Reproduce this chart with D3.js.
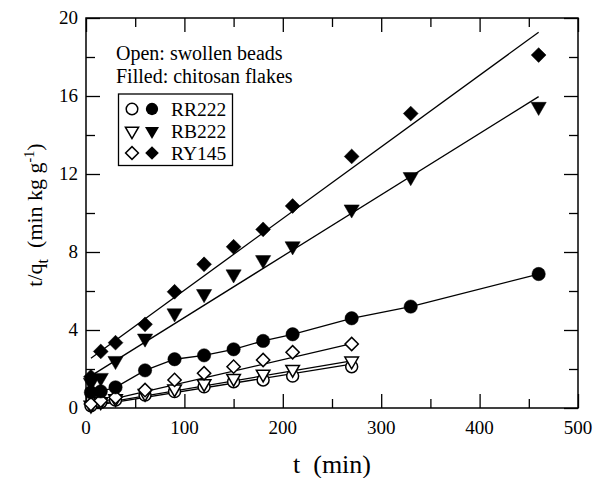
<!DOCTYPE html>
<html>
<head>
<meta charset="utf-8">
<script src="https://cdn.jsdelivr.net/npm/d3@7"></script>
<style>
	body { margin: 0; background: #fff; }
	svg text { font-family: "Liberation Serif", "DejaVu Serif", serif; fill: #000; }
</style>
</head>
<body>
<div id="chart"></div>
<script>
//-------------------------------------
// data
//-------------------------------------
var tFilled = [5, 15, 30, 60, 90, 120, 150, 180, 210, 270, 330, 460];
var rrFilled = [0.8, 0.85, 1.06, 1.93, 2.50, 2.70, 3.01, 3.44, 3.78, 4.60, 5.20, 6.87];
var rbFilled = [1.3, 1.55, 2.42, 3.57, 4.86, 5.85, 6.86, 7.59, 8.30, 10.19, 11.85, 15.45];
var ryFilled = [1.6, 2.9, 3.35, 4.29, 5.96, 7.37, 8.27, 9.16, 10.36, 12.9, 15.1, 18.1];

var tOpen = [5, 15, 30, 60, 90, 120, 150, 180, 210, 270];
var rrOpen = [0.12, 0.3, 0.41, 0.67, 0.84, 1.09, 1.35, 1.44, 1.64, 2.12];
var rbOpen = [0.15, 0.32, 0.48, 0.75, 0.98, 1.25, 1.52, 1.74, 1.98, 2.41];
var ryOpen = [0.2, 0.38, 0.55, 0.92, 1.44, 1.78, 2.12, 2.46, 2.86, 3.28];

// fitted lines (end points)
var fitFilledT = [5, 460];
var ryFilledFit = [2.55, 19.27];
var rbFilledFit = [1.65, 15.97];
var fitOpenT = [5, 270];
var rrOpenFit = [0.1, 2.25];
var rbOpenFit = [0.15, 2.42];
var ryOpenFit = [0.2, 3.3];

var xMajor = [0, 100, 200, 300, 400, 500];
var xMinor = [50, 150, 250, 350, 450];
var yMajor = [0, 4, 8, 12, 16, 20];
var yMinor = [2, 6, 10, 14, 18];

var legendNames = ["RR222", "RB222", "RY145"];
var noteLines = ["Open: swollen beads", "Filled: chitosan flakes"];

//-------------------------------------
// field
//-------------------------------------
var width = 594;
var height = 478;
var plotL = 86, plotR = 578, plotT = 18, plotB = 408;

var svg = d3.select("#chart")
	.append("svg")
	.attr("width", width)
	.attr("height", height);

var x = d3.scaleLinear().domain([0, 500]).range([plotL, plotR]);
var y = d3.scaleLinear().domain([0, 20]).range([plotB, plotT]);

//-------------------------------------
// axes (ticks inward on all four sides)
//-------------------------------------
function drawAxis(axis, scale, values, size, transform) {
	svg.append("g")
		.attr("transform", transform)
		.call(axis(scale).tickValues(values).tickSize(size).tickFormat(""))
		.call(function(g) { g.select(".domain").remove(); })
		.selectAll("line")
		.attr("stroke", "#000")
		.attr("stroke-width", 1.3);
}

drawAxis(d3.axisTop, x, xMajor, 14, "translate(0," + plotB + ")");
drawAxis(d3.axisTop, x, xMinor, 9, "translate(0," + plotB + ")");
drawAxis(d3.axisBottom, x, xMajor, 14, "translate(0," + plotT + ")");
drawAxis(d3.axisBottom, x, xMinor, 9, "translate(0," + plotT + ")");
drawAxis(d3.axisRight, y, yMajor, 14, "translate(" + plotL + ",0)");
drawAxis(d3.axisRight, y, yMinor, 9, "translate(" + plotL + ",0)");
drawAxis(d3.axisLeft, y, yMajor, 14, "translate(" + plotR + ",0)");
drawAxis(d3.axisLeft, y, yMinor, 9, "translate(" + plotR + ",0)");

svg.append("rect")
	.attr("x", plotL)
	.attr("y", plotT)
	.attr("width", plotR - plotL)
	.attr("height", plotB - plotT)
	.attr("fill", "none")
	.attr("stroke", "#000")
	.attr("stroke-width", 1.5);

// tick labels
svg.append("g").selectAll("text")
	.data(xMajor)
	.enter()
	.append("text")
	.attr("x", function(d) { return x(d); })
	.attr("y", plotB + 26)
	.attr("text-anchor", "middle")
	.style("font-size", "19px")
	.text(function(d) { return d; });

svg.append("g").selectAll("text")
	.data(yMajor)
	.enter()
	.append("text")
	.attr("x", plotL - 8)
	.attr("y", function(d) { return y(d) + 6; })
	.attr("text-anchor", "end")
	.style("font-size", "19px")
	.text(function(d) { return d; });

// axis titles
svg.append("text")
	.attr("x", (plotL + plotR) / 2)
	.attr("y", 473)
	.attr("text-anchor", "middle")
	.style("font-size", "26px")
	.attr("xml:space", "preserve")
	.text("t  (min)");

var ylab = svg.append("text")
	.attr("transform", "translate(42," + 215 + ") rotate(-90)")
	.attr("text-anchor", "middle")
	.attr("xml:space", "preserve")
	.style("font-size", "22px");
ylab.append("tspan").text("t/q");
ylab.append("tspan").attr("dy", 6).style("font-size", "16px").text("t");
ylab.append("tspan").attr("dy", -6).text("  (min kg g");
ylab.append("tspan").attr("dy", -8).style("font-size", "14px").text("-1");
ylab.append("tspan").attr("dy", 8).text(")");

//-------------------------------------
// lines
//-------------------------------------
var line = d3.line()
	.x(function(d) { return x(d[0]); })
	.y(function(d) { return y(d[1]); });

function drawLine(ts, vs) {
	svg.append("path")
		.datum(d3.zip(ts, vs))
		.attr("d", line)
		.attr("fill", "none")
		.attr("stroke", "#000")
		.attr("stroke-width", 1.3);
}

drawLine(fitFilledT, ryFilledFit);
drawLine(fitFilledT, rbFilledFit);
drawLine(tFilled, rrFilled);
drawLine(fitOpenT, ryOpenFit);
drawLine(fitOpenT, rbOpenFit);
drawLine(fitOpenT, rrOpenFit);

//-------------------------------------
// symbols
//-------------------------------------
var shapes = [
	{ type: d3.symbolCircle, size: 140, rot: 0 },
	{ type: d3.symbolTriangle, size: 100, rot: 180 },
	{ type: d3.symbolSquare, size: 110, rot: 45 }
];

function drawPoints(ts, vs, shape, filled, scale) {
	svg.append("g").selectAll("path")
		.data(d3.zip(ts, vs))
		.enter()
		.append("path")
		.attr("d", d3.symbol().type(shape.type).size(shape.size * (scale || 1)))
		.attr("transform", function(d) {
			return "translate(" + x(d[0]) + "," + y(d[1]) + ") rotate(" + shape.rot + ")";
		})
		.attr("fill", filled ? "#000" : "#fff")
		.attr("stroke", "#000")
		.attr("stroke-width", filled ? 0.5 : 1.5);
}

drawPoints(tOpen, rrOpen, shapes[0], false, 0.8);
drawPoints(tOpen, rbOpen, shapes[1], false, 0.8);
drawPoints(tOpen, ryOpen, shapes[2], false, 0.8);
drawPoints(tFilled, rrFilled, shapes[0], true);
drawPoints(tFilled, rbFilled, shapes[1], true);
drawPoints(tFilled, ryFilled, shapes[2], true);

//-------------------------------------
// notes and legend
//-------------------------------------
svg.append("g").selectAll("text")
	.data(noteLines)
	.enter()
	.append("text")
	.attr("x", 116)
	.attr("y", function(d, i) { return 60 + i * 23; })
	.style("font-size", "20px")
	.text(function(d) { return d; });

svg.append("rect")
	.attr("x", 118.5)
	.attr("y", 94)
	.attr("width", 114)
	.attr("height", 71.5)
	.attr("fill", "#fff")
	.attr("stroke", "#000")
	.attr("stroke-width", 1.3);

var legend = svg.append("g").selectAll("g")
	.data(legendNames)
	.enter()
	.append("g")
	.attr("transform", function(d, i) { return "translate(0," + (109 + i * 22) + ")"; });

legend.append("path")
	.attr("d", function(d, i) { return d3.symbol().type(shapes[i].type).size(shapes[i].size * 0.75)(); })
	.attr("transform", function(d, i) { return "translate(132,0) rotate(" + shapes[i].rot + ")"; })
	.attr("fill", "#fff")
	.attr("stroke", "#000")
	.attr("stroke-width", 1.5);

legend.append("path")
	.attr("d", function(d, i) { return d3.symbol().type(shapes[i].type).size(shapes[i].size * 0.85)(); })
	.attr("transform", function(d, i) { return "translate(152,0) rotate(" + shapes[i].rot + ")"; })
	.attr("fill", "#000");

legend.append("text")
	.attr("x", 171)
	.attr("y", 7)
	.style("font-size", "19.5px")
	.text(function(d) { return d; });
</script>
</body>
</html>
